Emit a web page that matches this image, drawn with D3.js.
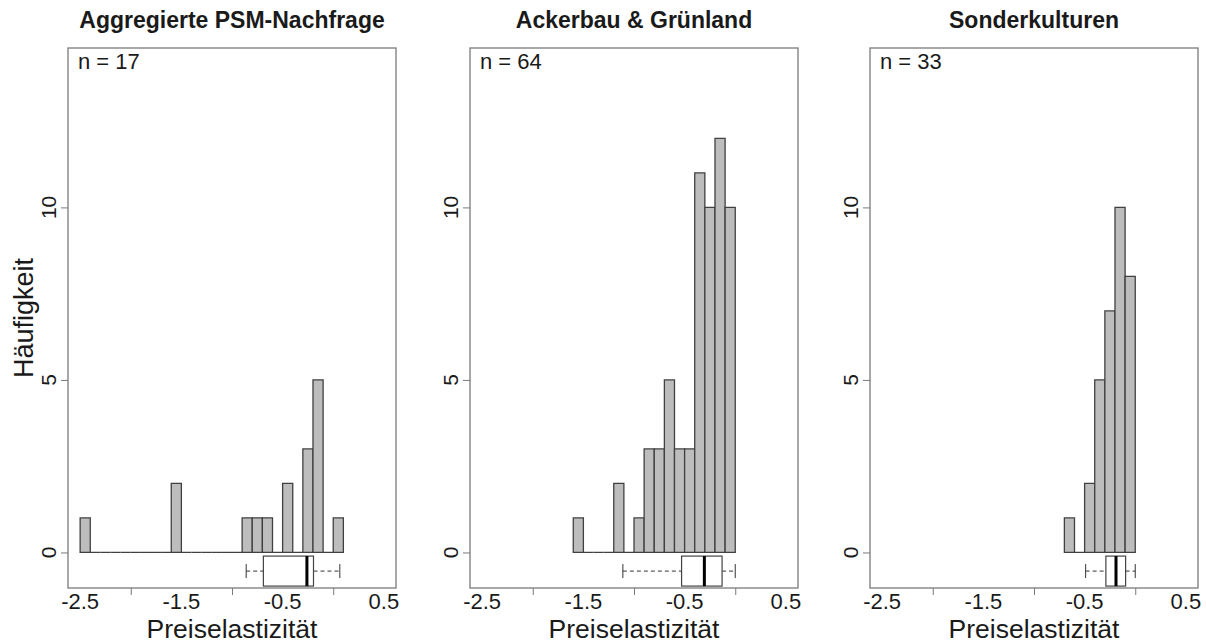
<!DOCTYPE html>
<html><head><meta charset="utf-8">
<script src="https://cdn.jsdelivr.net/npm/d3@7"></script>
<style>body{margin:0;background:#fff;} text{font-family:"Liberation Sans",Arial,sans-serif;fill:#1a1a1a;}</style>
</head><body>
<svg id="chart" width="1206" height="644"></svg>
<script>
// ---- data ----
const panelTitles = ["Aggregierte PSM-Nachfrage", "Ackerbau & Grünland", "Sonderkulturen"];
const sampleSizes = [17, 64, 33];
const binWidth = 0.1;
// left edges of first bin for each panel, counts per 0.1-wide bin
const binStarts = [-2.5, -1.6, -0.7];
const countsAggregiert = [1,0,0,0,0,0,0,0,0,2,0,0,0,0,0,0,1,1,1,0,2,0,3,5,0,1];
const countsAckerbau   = [1,0,0,0,2,0,1,3,3,5,3,3,11,10,12,10];
const countsSonder     = [1,0,2,5,7,10,8];
// boxplot: lower whisker, Q1, median, Q3, upper whisker
const boxAggregiert = [-0.86, -0.69, -0.26, -0.195, 0.065];
const boxAckerbau   = [-1.11, -0.53, -0.305, -0.13, 0.0];
const boxSonder     = [-0.49, -0.29, -0.19, -0.095, 0.0];
const xTickMarks = [-2, -1, 0];
const xTickLabels = [-2.5, -1.5, -0.5, 0.5];
const yTicks = [0, 5, 10];
const xLabel = "Preiselastizität";
const yLabel = "Häufigkeit";

const counts = [countsAggregiert, countsAckerbau, countsSonder];
const boxes = [boxAggregiert, boxAckerbau, boxSonder];

// ---- layout ----
const svg = d3.select("#chart");
const panelLefts = [68, 470, 870];
const pw = 328, plotTop = 48, plotBottom = 588;
const boxCenter = -0.54, boxHalf = 15, stapleHalf = 7;
const fmt = d => d3.format(".1f")(d).replace("−", "-");

panelLefts.forEach((left, p) => {
  const x = d3.scaleLinear().domain([-2.62, 0.62]).range([left, left + pw]);
  const y = d3.scaleLinear().domain([-1.03, 14.62]).range([plotBottom, plotTop]);
  const g = svg.append("g");

  // bins
  const bins = counts[p].map((c, i) => ({x0: binStarts[p] + i * binWidth, x1: binStarts[p] + (i + 1) * binWidth, c}));
  g.selectAll("path.bar").data(bins).join("path")
    .attr("class", "bar")
    .attr("d", d => `M${x(d.x0)},${y(0)}V${y(d.c)}H${x(d.x1)}V${y(0)}Z`)
    .attr("fill", "#bdbdbd").attr("stroke", "#404040").attr("stroke-width", 1.3);

  // boxplot
  const b = boxes[p];
  const cy = y(boxCenter);
  const bg = g.append("g").attr("stroke", "#333");
  bg.append("line").attr("x1", x(b[0])).attr("x2", x(b[1])).attr("y1", cy).attr("y2", cy).attr("stroke-dasharray", "4,3");
  bg.append("line").attr("x1", x(b[3])).attr("x2", x(b[4])).attr("y1", cy).attr("y2", cy).attr("stroke-dasharray", "4,3");
  [b[0], b[4]].forEach(v => bg.append("line").attr("x1", x(v)).attr("x2", x(v)).attr("y1", cy - stapleHalf).attr("y2", cy + stapleHalf));
  bg.append("rect").attr("x", x(b[1])).attr("y", cy - boxHalf).attr("width", x(b[3]) - x(b[1])).attr("height", 2 * boxHalf)
    .attr("fill", "#fff").attr("stroke", "#444").attr("stroke-width", 1.2);
  bg.append("line").attr("x1", x(b[2])).attr("x2", x(b[2])).attr("y1", cy - boxHalf).attr("y2", cy + boxHalf)
    .attr("stroke", "#000").attr("stroke-width", 3);

  // frame
  g.append("rect").attr("x", left).attr("y", plotTop).attr("width", pw).attr("height", plotBottom - plotTop)
    .attr("fill", "none").attr("stroke", "#7a7a7a").attr("stroke-width", 1.3);

  // x axis: ticks at integers, labels at half values
  const xa = d3.axisBottom(x).tickValues(xTickMarks).tickSize(7).tickFormat("");
  const xg = g.append("g").attr("transform", `translate(0,${plotBottom})`).call(xa);
  xg.select(".domain").remove();
  xg.selectAll(".tick line").attr("stroke", "#7a7a7a");
  g.selectAll("text.xl").data(xTickLabels).join("text").attr("class", "xl")
    .attr("x", d => x(d)).attr("y", 609).attr("text-anchor", "middle").attr("font-size", 22)
    .text(fmt);

  // y axis
  const ya = d3.axisLeft(y).tickValues(yTicks).tickSize(7).tickFormat("");
  const yg = g.append("g").attr("transform", `translate(${left},0)`).call(ya);
  yg.select(".domain").remove();
  yg.selectAll(".tick line").attr("stroke", "#7a7a7a");
  g.selectAll("text.yl").data(yTicks).join("text").attr("class", "yl")
    .attr("transform", d => `translate(${left - 12},${y(d)}) rotate(-90)`)
    .attr("text-anchor", "middle").attr("font-size", 21).text(d => d);

  // titles
  g.append("text").attr("x", left + pw / 2).attr("y", 28).attr("text-anchor", "middle")
    .attr("font-size", 23).attr("font-weight", "bold").text(panelTitles[p]);
  g.append("text").attr("x", left + 10).attr("y", 69).attr("font-size", 22).text("n = " + sampleSizes[p]);
  g.append("text").attr("x", left + pw / 2).attr("y", 638).attr("text-anchor", "middle")
    .attr("font-size", 26.5).text(xLabel);
});

svg.append("text").attr("transform", "translate(33,318) rotate(-90)").attr("text-anchor", "middle")
  .attr("font-size", 27).text(yLabel);
</script>
</body></html>
